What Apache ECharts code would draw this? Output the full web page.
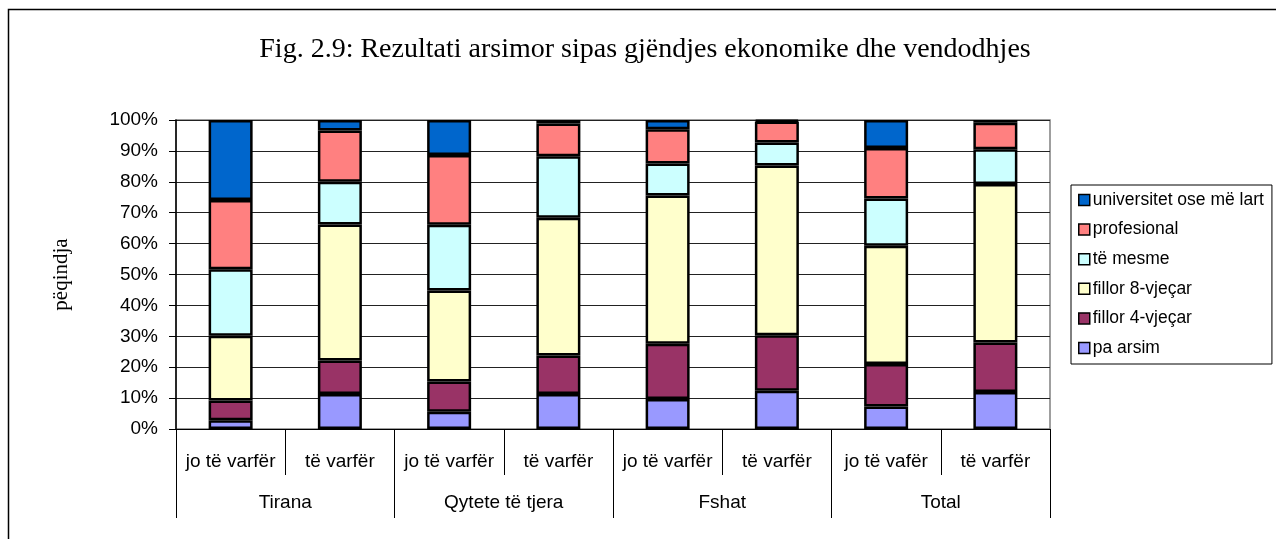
<!DOCTYPE html>
<html>
<head>
<meta charset="utf-8">
<script src="https://cdn.jsdelivr.net/npm/echarts@6/dist/echarts.min.js"></script>
<style>
  html, body { margin: 0; padding: 0; background: #fff; }
  #chart { width: 1276px; height: 539px; }
</style>
</head>
<body>
<div id="chart"></div>
<script>
// --- Datos del gráfico ---
const categories = ["jo të varfër", "të varfër", "jo të varfër", "të varfër", "jo të varfër", "të varfër", "jo të vafër", "të varfër"];
const groups = ["Tirana", "Qytete të tjera", "Fshat", "Total"];

const paArsim      = [2.8, 11.3, 5.6, 11.3, 9.7, 12.4, 7.3, 12.0];
const fillor4      = [6.4, 10.9, 9.8, 12.5, 17.9, 17.9, 13.7, 16.0];
const fillor8      = [21.0, 44.0, 29.4, 44.6, 48.0, 55.0, 38.3, 51.3];
const teMesme      = [21.5, 13.8, 21.3, 19.9, 10.3, 7.4, 15.3, 11.2];
const profesional  = [22.4, 16.6, 22.6, 10.6, 11.1, 6.8, 16.3, 8.6];
const universitet  = [25.9, 3.4, 11.3, 1.1, 3.0, 0.5, 9.1, 0.9];

const yTicks = [0, 10, 20, 30, 40, 50, 60, 70, 80, 90, 100];

const sans = "Liberation Sans, Arial, sans-serif";
const serif = "Liberation Serif, Times New Roman, serif";

// --- Series (de abajo hacia arriba) ---
const seriesDefs = [
    { name: "pa arsim", data: paArsim, color: "#9999FF" },
    { name: "fillor 4-vjeçar", data: fillor4, color: "#993366" },
    { name: "fillor 8-vjeçar", data: fillor8, color: "#FFFFCC" },
    { name: "të mesme", data: teMesme, color: "#CCFFFF" },
    { name: "profesional", data: profesional, color: "#FF8080" },
    { name: "universitet ose më lart", data: universitet, color: "#0066CC" }
];

const chart = echarts.init(document.getElementById("chart"));

chart.setOption({
    backgroundColor: "#fff",
    animation: false,
    title: {
        text: "Fig. 2.9: Rezultati arsimor sipas gjëndjes ekonomike dhe vendodhjes",
        left: 640,
        textAlign: "center",
        top: 31,
        textStyle: { fontFamily: serif, fontSize: 28, fontWeight: "normal", color: "#000" }
    },
    legend: {
        orient: "vertical",
        left: 1071,
        top: 185,
        padding: [6, 8, 7, 7],
        itemGap: 11.6,
        itemWidth: 11,
        itemHeight: 11,
        borderColor: "#000",
        borderWidth: 1,
        icon: "rect",
        data: seriesDefs.map(s => s.name).reverse(),
        itemStyle: { borderColor: "#000", borderWidth: 1.5 },
        textStyle: { fontFamily: sans, fontSize: 17.5, color: "#000", lineHeight: 18, padding: [0, 0, 0, -2] }
    },
    grid: {
        left: 176,
        right: 226,
        top: 120,
        bottom: 110,
        show: true,
        borderColor: "#808080",
        borderWidth: 1.5
    },
    xAxis: [
        {
            type: "category",
            data: categories,
            axisLine: { lineStyle: { color: "#000", width: 1 } },
            axisTick: { show: true, length: 46, lineStyle: { color: "#000" } },
            axisLabel: { interval: 0, margin: 23, fontFamily: sans, fontSize: 19, color: "#000" }
        },
        {
            type: "category",
            data: groups,
            position: "bottom",
            axisLine: { show: false },
            axisTick: { show: true, length: 89, lineStyle: { color: "#000" } },
            axisLabel: { interval: 0, margin: 64, fontFamily: sans, fontSize: 19, color: "#000" }
        }
    ],
    yAxis: {
        type: "value",
        min: yTicks[0],
        max: yTicks[yTicks.length - 1],
        interval: 10,
        name: "pëqindja",
        nameLocation: "middle",
        nameGap: 104,
        nameRotate: 90,
        nameTextStyle: { fontFamily: serif, fontSize: 21, color: "#000" },
        axisLine: { show: true, lineStyle: { color: "#000", width: 1.5 } },
        axisTick: { show: true, length: 7, lineStyle: { color: "#000" } },
        axisLabel: { margin: 18, fontFamily: sans, fontSize: 19, color: "#000", formatter: "{value}%" },
        splitLine: { lineStyle: { color: "#222", width: 1 } }
    },
    series: seriesDefs.map(s => ({
        name: s.name,
        type: "bar",
        stack: "total",
        xAxisIndex: 0,
        barWidth: 44,
        data: s.data,
        itemStyle: { color: s.color, borderColor: "#000", borderWidth: 2.5 }
    })),
    graphic: [
        {
            type: "rect",
            shape: { x: 8.5, y: 9.5, width: 1300, height: 600 },
            style: { fill: "none", stroke: "#000", lineWidth: 1.5 },
            silent: true
        }
    ]
});
</script>
</body>
</html>
